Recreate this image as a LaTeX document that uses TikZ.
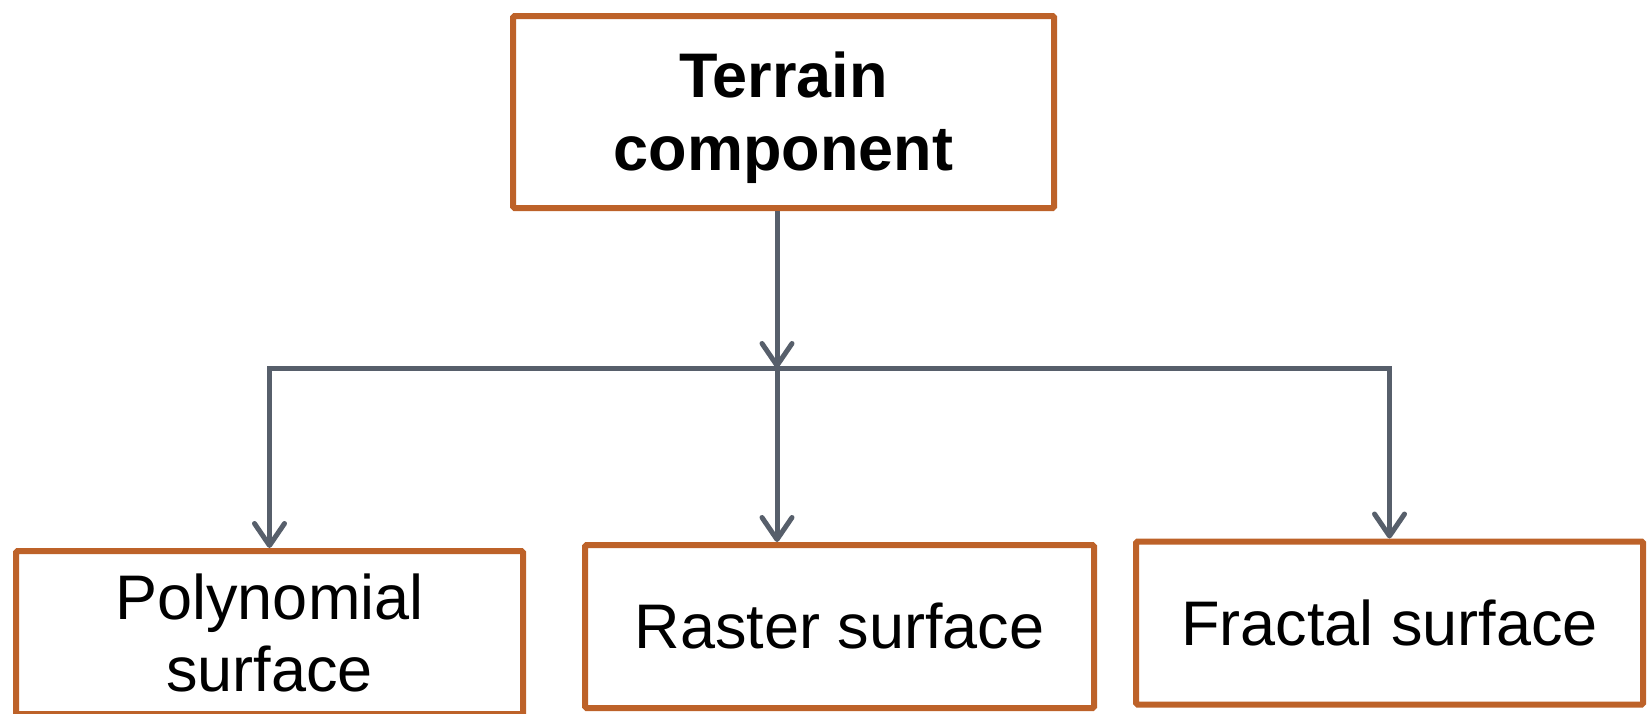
\documentclass[tikz,border=0pt]{standalone}
\usepackage{fontspec}
\setmainfont{Liberation Sans}
\usetikzlibrary{arrows.meta}
\definecolor{boxedge}{HTML}{BD6229}
\definecolor{linkgray}{HTML}{575F6B}
\tikzset{
  box/.style={draw=boxedge, line width=6pt, fill=white, rounded corners=1.5pt,
    align=center, inner sep=0pt, font=\fontsize{63}{72}\selectfont},
  link/.style={draw=linkgray, line width=5pt, line join=miter},
  arr/.style={link, -{Straight Barb[length=22pt, width=30pt, line cap=round, round]}},
}
\begin{document}
\begin{tikzpicture}[x=1pt, y=-1pt]
  \useasboundingbox (0,0) rectangle (1649,713);

  % boxes (the strut in the title pushes its two lines slightly lower)
  \node[box, minimum width=541pt, minimum height=192pt, font=\bfseries\fontsize{63}{73}\selectfont]
    (top) at (783.5,112)
    {\begin{tabular}{@{}c@{}}\rule{0pt}{66pt}Terrain\\component\end{tabular}};
  \node[box, minimum width=507pt, minimum height=163pt] (poly) at (269.5,632.5) {Polynomial\\surface};
  \node[box, minimum width=509pt, minimum height=163pt] (raster) at (839.5,626.5) {Raster surface};
  \node[box, minimum width=507pt, minimum height=163pt] (fractal) at (1389.5,623) {Fractal surface};

  % junction on the distribution bar
  \coordinate (j) at (777,368);

  % connectors
  \draw[arr] (top.south -| j) -- (j);
  \draw[arr] (j) -| (poly.north);
  \draw[arr] (j) -| (fractal.north);
  \draw[arr] (j) -- (j |- raster.north);
\end{tikzpicture}
\end{document}
